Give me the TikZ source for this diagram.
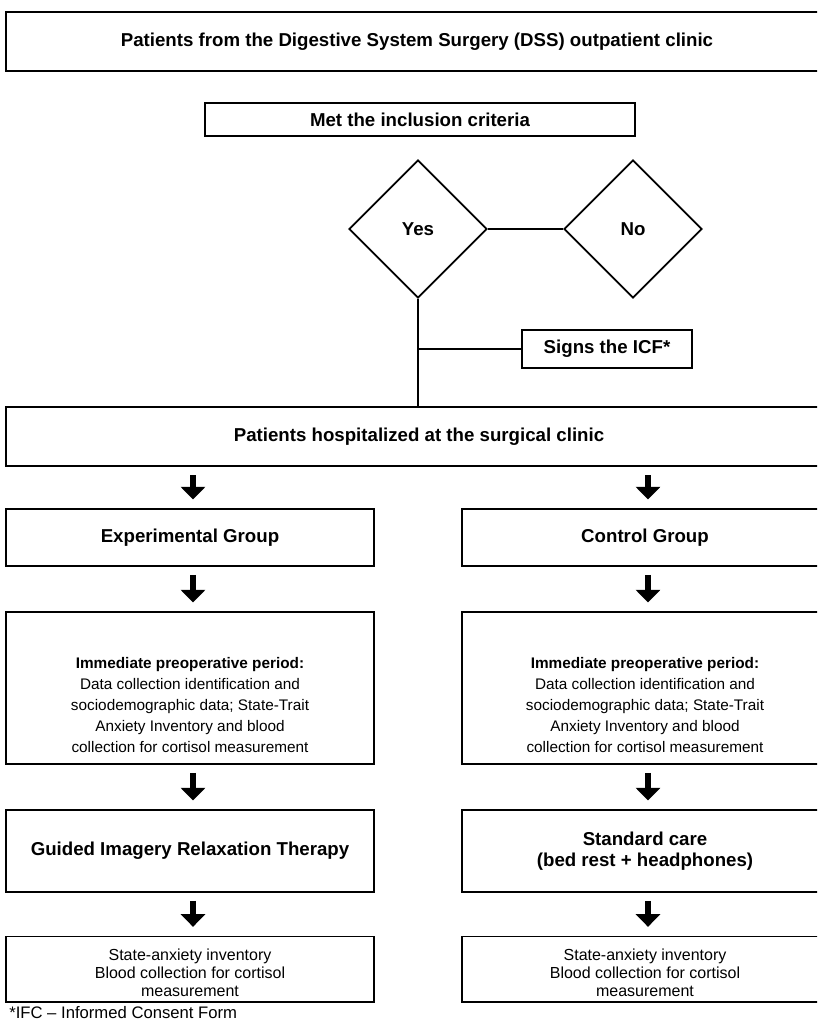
\documentclass[tikz,border=0pt]{standalone}
\usepackage{fontspec}
\setmainfont{Liberation Sans}
\usetikzlibrary{shapes.geometric,arrows.meta}
\begin{document}
\begin{tikzpicture}[x=0.75pt,y=-0.75pt,
  box/.style={draw, line width=1.25pt, inner sep=0pt, align=center, font=\fontsize{14}{16}\selectfont\bfseries},
  thickbox/.style={box, line width=1.6pt},
  plain/.style={inner sep=0pt, align=center},
  pretext/.style={plain, font=\fontsize{11.5}{15.75}\selectfont},
  posttext/.style={plain, font=\fontsize{12}{13.5}\selectfont},
  decision/.style={diamond, draw, line width=1.25pt, aspect=1, inner sep=0pt, minimum width=103.5pt, minimum height=103.5pt, font=\fontsize{14}{16}\selectfont\bfseries},
  link/.style={line width=1.25pt},
  bigarrow/.style={line width=4pt, -{Triangle[length=9.5pt, width=18pt]}, shorten <=6pt, shorten >=6.5pt}]
\useasboundingbox (0,0) rectangle (817,1023);
\begin{scope}
\clip (0,0) rectangle (817,1023);
\node[thickbox, minimum width=616.5pt, minimum height=44.25pt] (top) at (417,41.5) {Patients from the Digestive System Surgery (DSS) outpatient clinic};
\node[thickbox, minimum width=322.5pt, minimum height=24.75pt] (met) at (420,119.5) {Met the inclusion criteria};
\node[decision] (yes) at (418,229) {Yes};
\node[decision] (no) at (633,229) {No};
\node[box, minimum width=127.5pt, minimum height=28.5pt] (icf) at (607,349) {Signs the ICF*};
\node[thickbox, minimum width=619.5pt, minimum height=44.25pt] (hosp) at (419,436.5) {Patients hospitalized at the surgical clinic};
\node[box, minimum width=276pt, minimum height=42.75pt] (exp) at (190,537.5) {Experimental Group};
\node[box, minimum width=274.5pt, minimum height=42.75pt] (ctl) at (645,537.5) {Control Group};
\node[box, minimum width=276pt, minimum height=114pt] (pre1) at (190,688) {};
\node[box, minimum width=274.5pt, minimum height=114pt] (pre2) at (645,688) {};
\node[pretext] (pre1t) at (190,705) {\textbf{Immediate preoperative period:}\\Data collection identification and\\sociodemographic data; State-Trait\\Anxiety Inventory and blood\\collection for cortisol measurement};
\node[pretext] (pre2t) at (645,705) {\textbf{Immediate preoperative period:}\\Data collection identification and\\sociodemographic data; State-Trait\\Anxiety Inventory and blood\\collection for cortisol measurement};
\node[box, minimum width=276pt, minimum height=61.5pt] (gir) at (190,851) {Guided Imagery Relaxation Therapy};
\node[box, minimum width=274.5pt, minimum height=61.5pt] (std) at (645,851) {Standard care\\(bed rest + headphones)};
\node[box, minimum width=276pt, minimum height=49pt] (post1) at (190,969) {};
\node[box, minimum width=274.5pt, minimum height=49pt] (post2) at (645,969) {};
\node[posttext] (post1t) at (190,973) {State-anxiety inventory\\Blood collection for cortisol\\measurement};
\node[posttext] (post2t) at (645,973) {State-anxiety inventory\\Blood collection for cortisol\\measurement};
\node[anchor=west, inner sep=0pt, font=\fontsize{12.5}{14}\selectfont] (note) at (9,1013) {*IFC -- Informed Consent Form};
\draw[link] (yes.east) -- (no.west);
\draw[link] (yes.south) -- (yes.south |- hosp.north);
\draw[link] (icf.west) -- (icf.west -| yes.south);
\coordinate (la) at (193,0);
\coordinate (ra) at (648,0);
\draw[bigarrow] (la |- hosp.south) -- (la |- exp.north);
\draw[bigarrow] (ra |- hosp.south) -- (ra |- ctl.north);
\draw[bigarrow] (la |- exp.south) -- (la |- pre1.north);
\draw[bigarrow] (ra |- ctl.south) -- (ra |- pre2.north);
\draw[bigarrow] (la |- pre1.south) -- (la |- gir.north);
\draw[bigarrow] (ra |- pre2.south) -- (ra |- std.north);
\draw[bigarrow] (la |- gir.south) -- (la |- post1.north);
\draw[bigarrow] (ra |- std.south) -- (ra |- post2.north);
\end{scope}
\end{tikzpicture}
\end{document}
